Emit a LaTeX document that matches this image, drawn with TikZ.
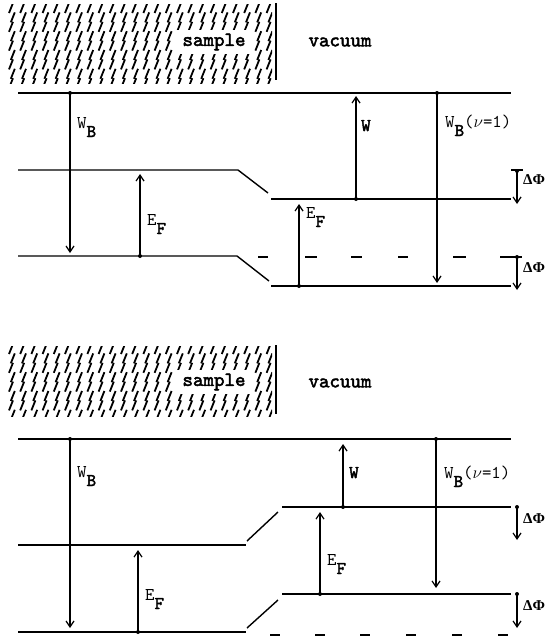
\documentclass[tikz,border=0pt]{standalone}
\usepackage{fontspec}
\setmonofont[BoldFont=lmmono10-regular.otf, BoldFeatures={FakeBold=2.5}]{lmmono10-regular.otf}
\newfontfamily\greekfont{Liberation Serif}
\usetikzlibrary{arrows.meta}
\tikzset{
  level/.style={line width=1.4pt},
  hatchline/.style={line width=1.8pt},
  arr/.style={line width=1.2pt,-{Straight Barb[length=6pt,width=8pt,line width=1.2pt]}},
  dotc/.style={circle,fill,inner sep=0pt,minimum size=4pt},
  lbl/.style={anchor=base west,inner sep=0pt,font=\ttfamily\fontsize{18}{18}\selectfont},
  big/.style={font=\ttfamily\bfseries\fontsize{20}{20}\selectfont,inner sep=0pt},
  dphi/.style={anchor=west,inner sep=0pt,font=\greekfont\bfseries\fontsize{15}{15}\selectfont},
}
\newcommand{\sbB}{\raisebox{-9pt}{\bfseries B}}
\newcommand{\sbF}{\raisebox{-9pt}{\bfseries F}}
\begin{document}
\begin{tikzpicture}[x=1pt,y=-1pt]
\useasboundingbox (0,0) rectangle (544,637);
% ================= TOP PANEL =================
\begin{scope}
\clip (8,4) rectangle (272,83);
\foreach \i in {0,...,23}{\foreach \j in {0,...,8}{
  \draw[hatchline] ({9+11.2*\i+1.8*mod(\j,2)},{13+9.4*\j}) -- ++(4,-10);
}}
\end{scope}
\fill[white] (176,30) rectangle (253,54);
\node[big] (s1) at (214,42) {sample};
\draw[line width=2pt] (276,3) -- (276,80);
\node[big] (v1) at (340,42) {vacuum};
% levels
\draw[level] (18,93) -- (511,93);
\draw[level] (18,170) -- (238,170) -- (268,193);
\draw[level] (271,199) -- (511,199);
\draw[level] (18,256) -- (237,256) -- (269,281);
\draw[level] (271,286) -- (511,286);
\foreach \a/\b in {258/268,305/317,351/362,398/408,453/466,500/522}{
  \draw[level] (\a,257) -- (\b,257);}
\draw[level] (511,170) -- (523,170);
% coordinates and arrows
\node[dotc] (wbA) at (70,93) {}; \coordinate (wbAe) at (70,253);
\draw[arr] (wbA.center) -- (wbAe);
\node[lbl] (lwbA) at (77,128) {W\sbB};
\node[dotc] (efA) at (140,256) {}; \coordinate (efAe) at (140,174);
\draw[arr] (efA.center) -- (efAe);
\node[lbl] (lefA) at (147,225) {E\sbF};
\node[dotc] (efB) at (299,286) {}; \coordinate (efBe) at (299,204);
\draw[arr] (efB.center) -- (efBe);
\node[lbl] (lefB) at (306,218) {E\sbF};
\node[dotc] (wA) at (356,199) {}; \coordinate (wAe) at (356,96);
\draw[arr] (wA.center) -- (wAe);
\node[lbl] (lwA) at (361,131) {\bfseries W};
\node[dotc] (wnA) at (437,93) {}; \coordinate (wnAe) at (437,283);
\draw[arr] (wnA.center) -- (wnAe);
\node[lbl] (lwnA) at (445,127) {W\sbB($\nu$=1)};
\node[dotc] (dpA) at (517,171) {}; \coordinate (dpAe) at (517,204);
\draw[arr] (dpA.center) -- (dpAe);
\node[dphi] (ldpA) at (523,180) {ΔΦ};
\node[dotc] (dpB) at (517,257) {}; \coordinate (dpBe) at (517,290);
\draw[arr] (dpB.center) -- (dpBe);
\node[dphi] (ldpB) at (523,268) {ΔΦ};
% ================= BOTTOM PANEL =================
\begin{scope}
\clip (8,346) rectangle (272,416);
\foreach \i in {0,...,23}{\foreach \j in {0,...,8}{
  \draw[hatchline] ({9+11.2*\i+1.8*mod(\j,2)},{354+9.4*\j}) -- ++(4,-10);
}}
\end{scope}
\fill[white] (176,370) rectangle (253,394);
\node[big] (s2) at (214,382) {sample};
\draw[line width=2pt] (276,345) -- (276,414);
\node[big] (v2) at (340,383) {vacuum};
% levels
\draw[level] (18,439) -- (511,439);
\draw[level] (18,545) -- (246,545);
\draw[level] (247,541) -- (278,512);
\draw[level] (282,507) -- (511,507);
\draw[level] (18,632) -- (246,632);
\draw[level] (247,628) -- (278,600);
\draw[level] (282,594) -- (511,594);
\foreach \a/\b in {270/280,315/325,360/370,406/416,452/462,498/508}{
  \draw[level] (\a,635) -- (\b,635);}
% arrows
\node[dotc] (wbC) at (70,439) {}; \coordinate (wbCe) at (70,628);
\draw[arr] (wbC.center) -- (wbCe);
\node[lbl] (lwbC) at (77,477) {W\sbB};
\node[dotc] (efC) at (138,632) {}; \coordinate (efCe) at (138,550);
\draw[arr] (efC.center) -- (efCe);
\node[lbl] (lefC) at (145,600) {E\sbF};
\node[dotc] (efD) at (320,594) {}; \coordinate (efDe) at (320,512);
\draw[arr] (efD.center) -- (efDe);
\node[lbl] (lefD) at (327,565) {E\sbF};
\node[dotc] (wC) at (343,507) {}; \coordinate (wCe) at (343,444);
\draw[arr] (wC.center) -- (wCe);
\node[lbl] (lwC) at (349,478) {\bfseries W};
\node[dotc] (wnC) at (436,439) {}; \coordinate (wnCe) at (436,588);
\draw[arr] (wnC.center) -- (wnCe);
\node[lbl] (lwnC) at (444,478) {W\sbB($\nu$=1)};
\node[dotc] (dpC) at (517,507) {}; \coordinate (dpCe) at (517,540);
\draw[arr] (dpC.center) -- (dpCe);
\node[dphi] (ldpC) at (523,519) {ΔΦ};
\node[dotc] (dpD) at (517,594) {}; \coordinate (dpDe) at (517,628);
\draw[arr] (dpD.center) -- (dpDe);
\node[dphi] (ldpD) at (523,606) {ΔΦ};
\end{tikzpicture}
\end{document}
